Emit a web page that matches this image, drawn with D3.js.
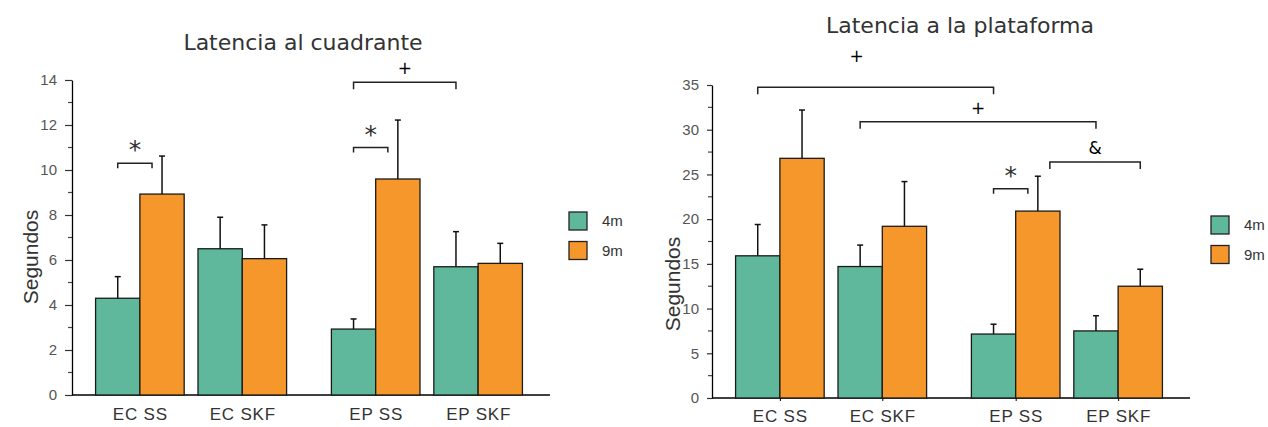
<!DOCTYPE html>
<html>
<head>
<meta charset="utf-8">
<script src="https://cdn.jsdelivr.net/npm/d3@7"></script>
<style>
  body { margin: 0; background: #fff; }
  svg { display: block; }
</style>
</head>
<body>
<div id="chart"></div>
<script>
const width = 1268;
const height = 427;

// data
const groups = ['EC SS', 'EC SKF', 'EP SS', 'EP SKF'];
const series = ['4m', '9m'];
const colors = { '4m': '#5fb89b', '9m': '#f5972b' };

const quadMean = { '4m': [4.3, 6.5, 2.93, 5.7], '9m': [8.93, 6.06, 9.6, 5.85] };
const quadErr = { '4m': [0.96, 1.4, 0.45, 1.56], '9m': [1.69, 1.5, 2.62, 0.89] };
const quadBrackets = [
    { from: ['EC SS', '4m'], to: ['EC SS', '9m'], level: 10.3, label: '*' },
    { from: ['EP SS', '4m'], to: ['EP SS', '9m'], level: 11.0, label: '*' },
    { from: ['EP SS', '4m'], to: ['EP SKF', '4m'], level: 13.9, label: '+' }
];

const platMean = { '4m': [15.9, 14.7, 7.15, 7.5], '9m': [26.8, 19.2, 20.9, 12.5] };
const platErr = { '4m': [3.5, 2.4, 1.1, 1.7], '9m': [5.4, 5.0, 3.9, 1.9] };
const platBrackets = [
    { from: ['EC SS', '4m'], to: ['EP SS', '4m'], level: 34.75, label: '+' },
    { from: ['EC SKF', '4m'], to: ['EP SKF', '4m'], level: 30.9, label: '+' },
    { from: ['EP SS', '9m'], to: ['EP SKF', '9m'], level: 26.4, label: '&' },
    { from: ['EP SS', '4m'], to: ['EP SS', '9m'], level: 23.4, label: '*' }
];

const svg = d3.select('#chart')
    .append('svg')
    .attr('width', width)
    .attr('height', height);

const drawChart = (opt) => {
    const g = svg.append('g');

    const y = d3.scaleLinear()
        .domain([0, opt.yMax])
        .range([opt.bottom, opt.top]);

    // group layout: EC / EP blocks, each with SS / SKF pairs
    const outer = d3.scaleBand()
        .domain(['EC', 'EP'])
        .range([opt.left, opt.left + 474])
        .paddingInner(0.19)
        .paddingOuter(0.1);
    const inner = d3.scaleBand()
        .domain(['SS', 'SKF'])
        .range([0, outer.bandwidth()])
        .paddingInner(0.135);
    const sub = d3.scaleBand()
        .domain(series)
        .range([0, inner.bandwidth()]);

    const groupX = name => {
        const [a, b] = name.split(' ');
        return outer(a) + inner(b);
    };
    const barCenter = (name, s) => groupX(name) + sub(s) + sub.bandwidth() / 2;

    // y axis
    const yAxis = g.append('g')
        .attr('transform', `translate(${opt.left},0)`)
        .call(d3.axisLeft(y)
            .tickValues(d3.range(0, opt.yMax + 0.01, opt.yStep))
            .tickSize(opt.tickLen)
            .tickSizeOuter(0)
            .tickPadding(opt.tickPad)
            .tickFormat(d3.format('d')));
    yAxis.select('.domain').attr('stroke', '#000').attr('stroke-width', 1.3);
    yAxis.selectAll('.tick line').attr('stroke', '#333').attr('stroke-width', 1.2);
    yAxis.selectAll('.tick text')
        .style('font', '15px "Liberation Sans", Arial, sans-serif')
        .attr('fill', '#555');

    // minor ticks
    g.append('g')
        .selectAll('line')
        .data(d3.range(opt.yStep / 2, opt.yMax, opt.yStep))
        .enter()
        .append('line')
        .attr('x1', opt.left - 4)
        .attr('x2', opt.left)
        .attr('y1', d => y(d))
        .attr('y2', d => y(d))
        .attr('stroke', '#444')
        .attr('stroke-width', 1.2);

    // x axis
    g.append('line')
        .attr('x1', opt.left)
        .attr('x2', opt.left + 478)
        .attr('y1', y(0))
        .attr('y2', y(0))
        .attr('stroke', '#000')
        .attr('stroke-width', 1.3);

    const xLabels = d3.scaleOrdinal()
        .domain(groups)
        .range(groups.map(d => groupX(d) + inner.bandwidth() / 2));

    const xAxis = g.append('g')
        .attr('transform', `translate(0,${y(0)})`)
        .call(d3.axisBottom(xLabels).tickSize(opt.xTick).tickPadding(opt.xPad));
    xAxis.select('.domain').remove();
    xAxis.selectAll('.tick line').attr('stroke', '#000');
    xAxis.selectAll('.tick text')
        .style('font', '17px "Liberation Sans", Arial, sans-serif')
        .style('letter-spacing', '0.8px')
        .attr('fill', '#333');

    // bars + error bars
    series.forEach(s => {
        const bars = g.append('g');
        bars.selectAll('rect')
            .data(groups)
            .enter()
            .append('rect')
            .attr('x', d => groupX(d) + sub(s))
            .attr('y', (d, i) => y(opt.mean[s][i]))
            .attr('width', sub.bandwidth())
            .attr('height', (d, i) => y(0) - y(opt.mean[s][i]))
            .attr('fill', colors[s])
            .attr('stroke', '#1a1a1a')
            .attr('stroke-width', 1.3);

        bars.selectAll('line.err')
            .data(groups)
            .enter()
            .append('line')
            .attr('class', 'err')
            .attr('x1', d => barCenter(d, s))
            .attr('x2', d => barCenter(d, s))
            .attr('y1', (d, i) => y(opt.mean[s][i]))
            .attr('y2', (d, i) => y(opt.mean[s][i] + opt.err[s][i]))
            .attr('stroke', '#111')
            .attr('stroke-width', 1.5);

        bars.selectAll('line.cap')
            .data(groups)
            .enter()
            .append('line')
            .attr('class', 'cap')
            .attr('x1', d => barCenter(d, s) - 3)
            .attr('x2', d => barCenter(d, s) + 3)
            .attr('y1', (d, i) => y(opt.mean[s][i] + opt.err[s][i]))
            .attr('y2', (d, i) => y(opt.mean[s][i] + opt.err[s][i]))
            .attr('stroke', '#111')
            .attr('stroke-width', 1.5);
    });

    // significance brackets
    const br = g.append('g');
    opt.brackets.forEach((b, i) => {
        const sameGroup = b.from[0] === b.to[0];
        const x1 = barCenter(b.from[0], b.from[1]) + (b.from[1] === '9m' ? 12 : 0);
        const x2 = barCenter(b.to[0], b.to[1]) - (sameGroup ? 10 : 0);
        const yy = y(b.level);
        const drop = sameGroup ? 5 : 7;
        br.append('path')
            .attr('d', `M${x1},${yy + drop}V${yy}H${x2}V${yy + drop}`)
            .attr('fill', 'none')
            .attr('stroke', '#222')
            .attr('stroke-width', 1.5);

        const lift = opt.labelLift[i] || 0;
        const isStar = b.label === '*';
        br.append('text')
            .attr('x', (x1 + x2) / 2 + (opt.labelShift[i] || 0))
            .attr('y', yy - (isStar ? 5 : 8) - lift)
            .attr('text-anchor', 'middle')
            .attr('fill', isStar ? '#333' : '#000')
            .style('font', isStar ? '25px "DejaVu Sans", sans-serif' : '17px "DejaVu Sans", sans-serif')
            .text(b.label);
    });

    // title
    g.append('text')
        .attr('x', opt.titleX)
        .attr('y', opt.titleY)
        .attr('text-anchor', 'middle')
        .attr('fill', '#333')
        .style('font', '22px "DejaVu Sans", sans-serif')
        .text(opt.title);

    // y label
    g.append('text')
        .attr('transform', `translate(${opt.yLabelX},${opt.yLabelY}) rotate(-90)`)
        .attr('text-anchor', 'middle')
        .attr('fill', '#333')
        .style('font', '21px "Liberation Sans", Arial, sans-serif')
        .text('Segundos');

    // legend
    const legend = g.append('g')
        .attr('transform', `translate(${opt.legendX},${opt.legendY})`);
    const item = legend.selectAll('g')
        .data(series)
        .enter()
        .append('g')
        .attr('transform', (d, i) => `translate(0,${i * 29.5})`);
    item.append('rect')
        .attr('width', 18)
        .attr('height', 18)
        .attr('fill', d => colors[d])
        .attr('stroke', '#222')
        .attr('stroke-width', 1.3);
    item.append('text')
        .attr('x', 33)
        .attr('y', 14)
        .attr('fill', '#333')
        .style('font', '15px "Liberation Sans", Arial, sans-serif')
        .text(d => d);
};

drawChart({
    left: 72, top: 80, bottom: 395, yMax: 14, yStep: 2,
    tickLen: 7, tickPad: 8, xTick: 0, xPad: 13,
    mean: quadMean, err: quadErr, brackets: quadBrackets,
    labelLift: {}, labelShift: {},
    title: 'Latencia al cuadrante', titleX: 303, titleY: 50,
    yLabelX: 38, yLabelY: 257,
    legendX: 569, legendY: 212
});

drawChart({
    left: 712, top: 85, bottom: 398, yMax: 35, yStep: 5,
    tickLen: 5, tickPad: 8, xTick: 3, xPad: 9,
    mean: platMean, err: platErr, brackets: platBrackets,
    labelLift: { 0: 17 }, labelShift: { 0: -19 },
    title: 'Latencia a la plataforma', titleX: 960, titleY: 33,
    yLabelX: 680, yLabelY: 284,
    legendX: 1211, legendY: 216
});
</script>
</body>
</html>
